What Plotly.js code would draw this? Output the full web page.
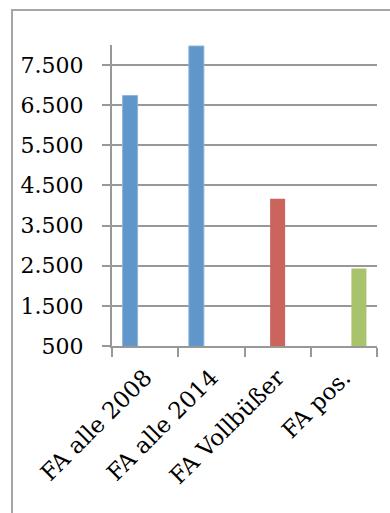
<!DOCTYPE html>
<html>
<head>
<meta charset="utf-8">
<script src="https://cdn.plot.ly/plotly-3.0.1.min.js"></script>
<style>
html,body{margin:0;padding:0;background:#fff;}
#chart{width:390px;height:513px;}
</style>
</head>
<body>
<div id="chart"></div>
<script>
var categories = ["FA alle 2008", "FA alle 2014", "FA Vollbüßer", "FA pos."];
var seriesAlle = [6740, 7975, null, null];
var seriesVollbuesser = [null, null, 4170, null];
var seriesPos = [null, null, null, 2430];
var tickValues = [500, 1500, 2500, 3500, 4500, 5500, 6500, 7500];
var tickLabels = ["500", "1.500", "2.500", "3.500", "4.500", "5.500", "6.500", "7.500"];

var W = 390, H = 513;
var margin = {l: 112, r: 13, t: 45, b: 167};
var pw = W - margin.l - margin.r, ph = H - margin.t - margin.b;
function px(x){ return (x - margin.l) / pw; }
function py(y){ return 1 - (y - margin.t) / ph; }

var gray = "#989898";
var yfont = {family: "DejaVu Serif, serif", size: 22, color: "#000"};
var xfont = {family: "DejaVu Serif, serif", size: 23, color: "#000"};

var traces = [
  {type: "bar", x: categories, y: seriesAlle, marker: {color: "#6096c9", line: {color: "#8fb5dc", width: 1}}, hoverinfo: "none"},
  {type: "bar", x: categories, y: seriesVollbuesser, marker: {color: "#cc645e"}, hoverinfo: "none"},
  {type: "bar", x: categories, y: seriesPos, marker: {color: "#a8c36b"}, hoverinfo: "none"}
];

var layout = {
  width: W, height: H,
  margin: margin,
  paper_bgcolor: "#fff", plot_bgcolor: "#fff",
  showlegend: false,
  barmode: "group",
  bargap: 0.32,
  bargroupgap: 0,
  font: yfont,
  xaxis: {
    type: "category",
    showline: true, linecolor: gray, linewidth: 2,
    ticks: "outside", tickson: "boundaries", ticklen: 9, tickwidth: 2, tickcolor: gray,
    tickangle: -45, tickfont: xfont,
    showgrid: false, zeroline: false,
    ticklabelstandoff: 7
  },
  yaxis: {
    range: [500, 8000],
    tickvals: tickValues, ticktext: tickLabels,
    showline: true, linecolor: gray, linewidth: 2,
    ticks: "outside", ticklen: 8, tickwidth: 2, tickcolor: gray,
    showgrid: true, gridcolor: gray, gridwidth: 2,
    zeroline: false, tickfont: yfont,
    ticklabelstandoff: 14
  },
  shapes: [
    {type: "line", xref: "paper", yref: "paper", x0: px(12), x1: px(12), y0: py(9), y1: py(520), line: {color: "#a6a6a6", width: 2}},
    {type: "line", xref: "paper", yref: "paper", x0: px(11), x1: px(395), y0: py(10), y1: py(10), line: {color: "#a6a6a6", width: 2}}
  ]
};

Plotly.newPlot("chart", traces, layout, {displayModeBar: false, staticPlot: true});
</script>
</body>
</html>
